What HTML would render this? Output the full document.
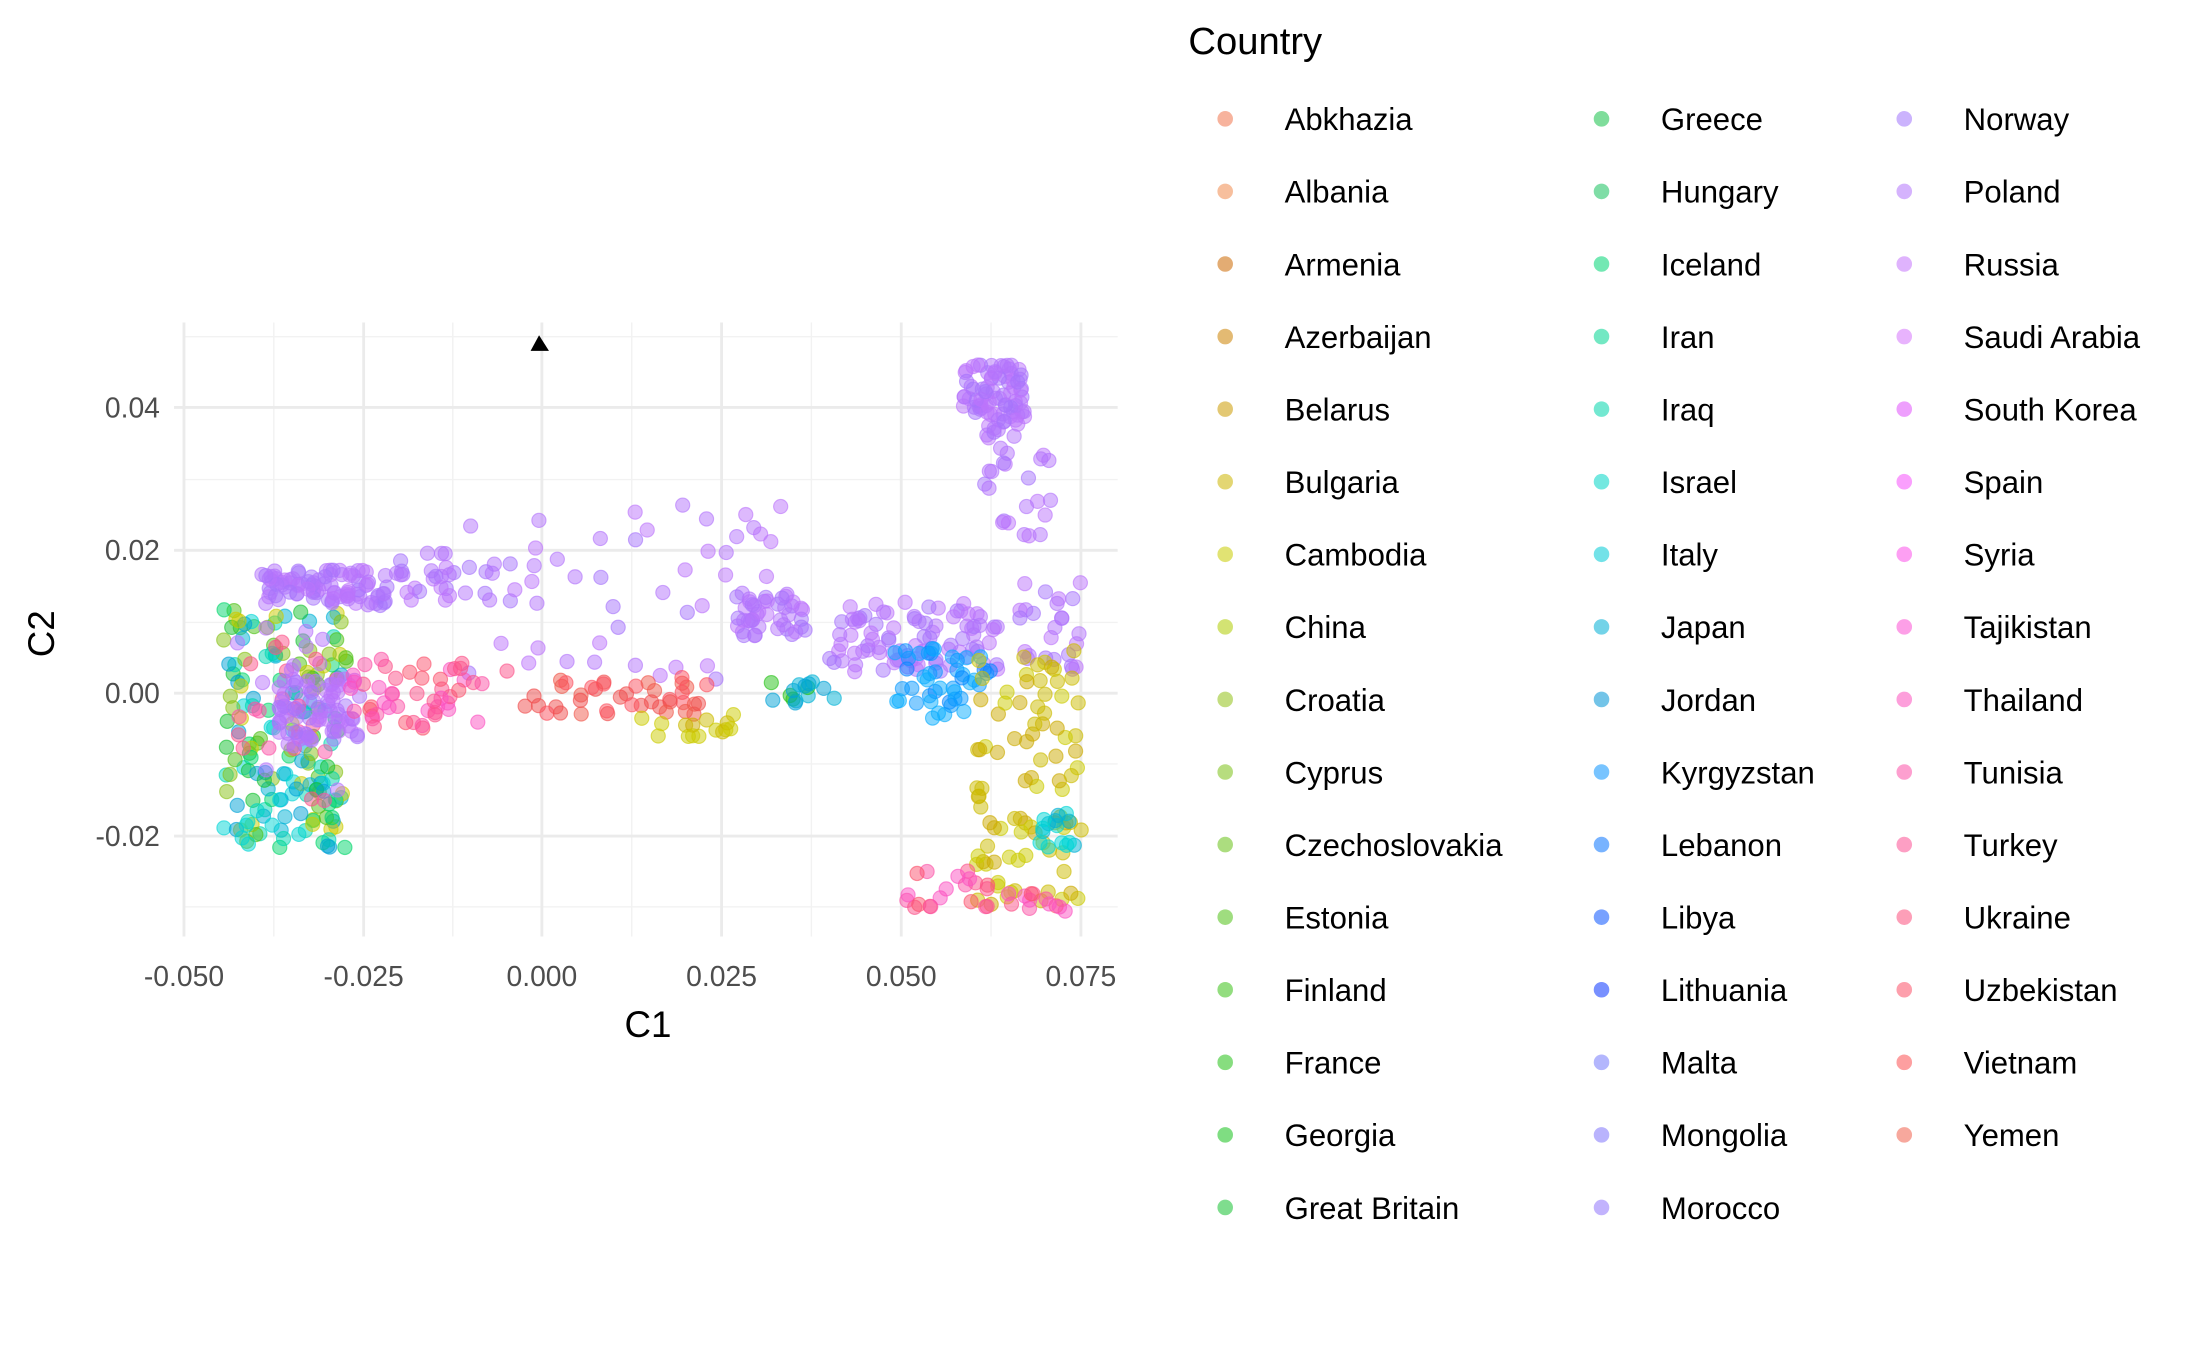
<!DOCTYPE html>
<html><head><meta charset="utf-8"><style>
html,body{margin:0;padding:0;background:#fff;}
svg{display:block;font-family:"Liberation Sans",Arial,sans-serif;}
</style></head><body>
<svg id="s" width="2200" height="1357" viewBox="0 0 1555 959.2" xmlns="http://www.w3.org/2000/svg">
<rect width="1555" height="960" fill="#fff"/>
<g id="grid"></g>
<g id="pts"></g>
<polygon points="381,237 375,248 388,248" fill="#000"/>
<g fill="#4d4d4d" font-size="20" text-anchor="end">
<text x="113" y="295">0.04</text><text x="113" y="396">0.02</text><text x="113" y="497">0.00</text><text x="113" y="598">-0.02</text>
</g>
<g fill="#4d4d4d" font-size="20" text-anchor="middle">
<text x="130" y="697">-0.050</text><text x="257" y="697">-0.025</text><text x="383" y="697">0.000</text><text x="510" y="697">0.025</text><text x="637" y="697">0.050</text><text x="764" y="697">0.075</text>
</g>
<text x="458" y="733" font-size="26" text-anchor="middle" fill="#000">C1</text>
<text transform="translate(38,448) rotate(-90)" font-size="26" text-anchor="middle" fill="#000">C2</text>
<text x="840" y="38" font-size="27" fill="#000">Country</text>
<g id="leg" font-size="22" fill="#000"></g>
</svg>
<script>
var cols=[["Abkhazia","Albania","Armenia","Azerbaijan","Belarus","Bulgaria","Cambodia","China","Croatia","Cyprus","Czechoslovakia","Estonia","Finland","France","Georgia","Great Britain"],
["Greece","Hungary","Iceland","Iran","Iraq","Israel","Italy","Japan","Jordan","Kyrgyzstan","Lebanon","Libya","Lithuania","Malta","Mongolia","Morocco"],
["Norway","Poland","Russia","Saudi Arabia","South Korea","Spain","Syria","Tajikistan","Thailand","Tunisia","Turkey","Ukraine","Uzbekistan","Vietnam","Yemen"]];
var total=cols[0].length+cols[1].length+cols[2].length;
function hc(h){h=(h+360)%360;var L,S;
 if(h<30){L=62;S=85;}else if(h<75){L=40;S=100;}else if(h<150){L=42;S=80;}else if(h<200){L=42;S=100;}
 else if(h<230){L=52;S=100;}else if(h<290){L=72;S=95;}else{L=65;S=95;}
 return "hsl("+h+","+S+"%,"+L+"%)";}
function col(i){return hc(15+360*i/total);}
var ns="http://www.w3.org/2000/svg";
function el(p,t,a,txt){var e=document.createElementNS(ns,t);for(var k in a)e.setAttribute(k,a[k]);if(txt)e.textContent=txt;document.getElementById(p).appendChild(e);return e;}
var idx=0,cx=[866,1132,1346],tx=[908,1174,1388];
for(var c=0;c<3;c++)for(var r=0;r<cols[c].length;r++){var y=84+r*51.3;
el("leg","circle",{cx:cx[c],cy:y,r:5.5,fill:col(idx),"fill-opacity":0.55});
el("leg","text",{x:tx[c],y:y+8},cols[c][r]);idx++;}
var xs=[130,257,383,510,637,764],ys=[288,389,490,591];
[193.5,320,446.5,573.5,700.5].forEach(function(x){el("grid","line",{x1:x,x2:x,y1:228,y2:662,stroke:"#f2f2f2","stroke-width":1});});
[238,339,440,540,641].forEach(function(y){el("grid","line",{x1:130,x2:790,y1:y,y2:y,stroke:"#f2f2f2","stroke-width":1});});
xs.forEach(function(x){el("grid","line",{x1:x,x2:x,y1:228,y2:662,stroke:"#ebebeb","stroke-width":2});});
ys.forEach(function(y){el("grid","line",{x1:123,x2:790,y1:y,y2:y,stroke:"#ebebeb","stroke-width":2});});
var seed=7;function rnd(){seed=(seed*16807)%2147483647;return seed/2147483647;}
function cl(n,x0,x1,y0,y1,hs){for(var i=0;i<n;i++){var h=hs[Math.floor(rnd()*hs.length)];var c=hc(h);
el("pts","circle",{cx:x0+rnd()*(x1-x0),cy:y0+rnd()*(y1-y0),r:5,fill:c,"fill-opacity":0.5,stroke:c,"stroke-opacity":0.6,"stroke-width":0.8});}}
var P=[262,268,272],G=[100,130,150,170,180],O=[50,55,60],PK=[320,330,340,350];
cl(160,158,245,430,600,G.concat([60,190,195,80]));
cl(40,165,240,440,580,[330,340,270]);
cl(90,185,275,403,428,P);
cl(70,195,255,480,525,P);
cl(30,280,350,390,425,P);
cl(50,330,570,355,480,P);
cl(40,520,570,420,450,P);
cl(90,585,710,425,475,P);
cl(70,680,725,258,295,P);
cl(35,695,745,290,380,P);
cl(25,720,765,410,475,P);
cl(50,245,360,465,515,PK);
cl(40,370,500,478,505,[355,0,5]);
cl(15,445,525,505,523,O);
cl(15,545,590,482,497,[190,195,115]);
cl(45,630,700,458,508,[200,205,210]);
cl(90,690,765,460,640,O);
cl(20,638,700,615,642,PK);
cl(12,712,760,630,645,PK);
cl(15,735,762,572,600,[180,190]);
cl(8,160,215,560,600,[175,180]);
</script>
</body></html>
